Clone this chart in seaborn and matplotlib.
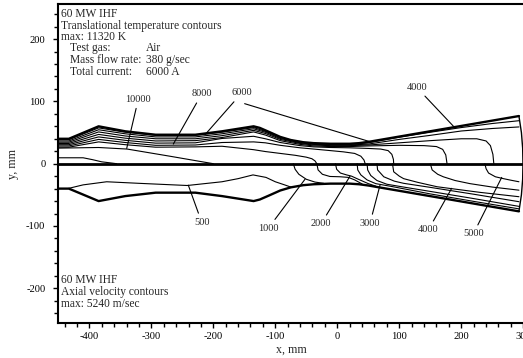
import matplotlib
matplotlib.use("Agg")
import matplotlib.pyplot as plt
import seaborn as sns
from matplotlib.ticker import MultipleLocator

# nozzle wall, upper contour (the lower wall is its mirror image)
wall_x = [-450, -433, -385, -342, -293, -229, -186, -135, -125, -110, -92, -75, -55, -38, -11, 20, 35, 50, 293]
wall_y = [40, 40, 60, 52, 46.5, 46.5, 52, 60, 57.5, 51, 43, 38, 34.5, 33, 32, 32, 33, 35, 76.5]

# exit plane
exit_x = [293, 297, 299, 299.5, 299, 297, 293]
exit_y = [76.5, 50, 25, 0, -25, -50, -76.5]

# translational temperature contours (upper half)
st_x = [-450, -433, -385, -342, -293, -229, -186, -135, -116, -92, -60, -38, -11, 20]
t_a_x = st_x + [50, 100, 150, 200, 250, 293]
t_a_y = [38.5, 38.5, 57.5, 50.5, 45.5, 45.5, 50.5, 58, 52, 42, 34.5, 32, 31, 31,
         33.5, 42.5, 50.5, 58, 64.5, 69]
t_b_x = st_x + [50, 100, 150, 200, 250, 293]
t_b_y = [36.5, 36.5, 54.5, 48, 43, 43, 48, 56, 50.5, 40.5, 33.5, 31, 30, 30,
         31.5, 39, 45.5, 52.5, 56.5, 59]
t_c_x = st_x + [50, 100, 150, 200, 225, 240, 247, 251, 252.5]
t_c_y = [34.5, 34.5, 51, 44.5, 40, 40, 45, 53.5, 48.5, 39, 32.5, 30, 29, 29,
         30, 33.5, 37, 40, 40, 36.5, 29, 15, 0]
t_d_x = st_x + [50, 100, 140, 160, 170, 175, 177]
t_d_y = [32.5, 32.5, 47, 41, 36.5, 37, 42, 51, 46, 37, 31, 28.5, 27.5, 27.5,
         28.5, 29.5, 29, 27.5, 23, 14, 0]
t_e_x = st_x + [50, 70, 82, 88, 90.5, 91]
t_e_y = [30.5, 30.5, 43, 37.5, 33, 33.5, 40.5, 44, 40, 34, 29, 27, 26, 25.5,
         24.5, 23.5, 21, 15, 7, 0]
t_f_x = st_x[:-1] + [10, 28, 38, 43, 45]
t_f_y = [28.5, 28.5, 39, 34, 29.5, 30, 34, 35, 33.5, 29.5, 25.5, 23.5, 21,
         19, 16.5, 12, 6, 0]
t_g_x = st_x[:-4] + [-68, -50, -41, -36, -33]
t_g_y = [26.5, 26.5, 35, 30.5, 26.5, 27, 28, 22.5, 19.5, 16.5,
         13.5, 10.5, 8, 4.5, 0]
t_h_x = [-450, -385, -339, -270, -200]
t_h_y = [25, 26, 23.5, 12, 0]
t_i_x = [-450, -410, -395, -380, -362, -356]
t_i_y = [9.5, 9.5, 6.5, 3, 0.8, 0]

# axial velocity contours (lower half)
v_1_x = [-433, -410, -372, -320, -242, -186, -160, -136, -115, -100, -85, -75]
v_1_y = [-39.5, -34, -29, -31.5, -35, -29, -24, -18, -22, -29, -34, -37.5]
v_2_x = [-71, -68, -62, -50, -36, -22]
v_2_y = [0, -9, -17, -25, -29.5, -31.5]
v_3_x = [-33, -31, -24, -12, 5, 18, 28, 40]
v_3_y = [0, -10, -17, -20.5, -21, -22, -26, -32.5]
v_4_x = [-3, -1, 5, 15, 23, 34, 50, 62]
v_4_y = [0, -9, -15, -18, -20, -25, -32, -36]
v_5_x = [32, 33, 38, 48, 62, 90, 150, 220, 293]
v_5_y = [0, -10, -18, -26, -32, -37, -48.5, -60.5, -72.5]
v_6_x = [48, 49, 54, 64, 80, 110, 150, 220, 293]
v_6_y = [0, -10, -19, -27, -33, -38, -44.5, -56, -68.5]
v_7_x = [64, 65, 75, 92, 107, 150, 220, 293]
v_7_y = [0, -10, -21, -28, -31.5, -38, -49, -61]
v_8_x = [89, 91, 100, 107, 130, 161, 230, 293]
v_8_y = [0, -13, -20, -24, -30, -37, -46, -53]
v_9_x = [150, 153, 162, 171, 190, 214, 250, 293]
v_9_y = [0, -10, -17, -21, -27, -32, -37.5, -42.5]
v_10_x = [238, 240, 244, 255, 268, 280, 293]
v_10_y = [0, -8, -15, -21, -24, -26.5, -29]

temp_lines = [(t_a_x, t_a_y), (t_b_x, t_b_y), (t_c_x, t_c_y), (t_d_x, t_d_y),
              (t_e_x, t_e_y), (t_f_x, t_f_y), (t_g_x, t_g_y), (t_h_x, t_h_y),
              (t_i_x, t_i_y)]
vel_lines = [(v_1_x, v_1_y), (v_2_x, v_2_y), (v_3_x, v_3_y), (v_4_x, v_4_y),
             (v_5_x, v_5_y), (v_6_x, v_6_y), (v_7_x, v_7_y), (v_8_x, v_8_y),
             (v_9_x, v_9_y), (v_10_x, v_10_y)]

sns.set_theme(style="ticks")
plt.rcParams["font.family"] = ["Liberation Serif", "DejaVu Serif"]
plt.rcParams["axes.unicode_minus"] = False

fig = plt.figure(figsize=(5.23, 3.58), dpi=100)
ax = fig.add_axes([0.1115, 0.0964, 0.8914, 0.8927])


def draw(x, y, lw):
    sns.lineplot(x=x, y=y, sort=False, estimator=None, color="black",
                 linewidth=lw, ax=ax, legend=False)


for x, y in temp_lines + vel_lines:
    draw(x, y, 0.8)

draw(wall_x, wall_y, 1.7)
draw(wall_x, [-v for v in wall_y], 1.7)
draw(exit_x, exit_y, 1.0)
ax.axhline(0, color="black", lw=2)

# contour labels with leader lines
lead = dict(arrowstyle="-", color="black", lw=0.8, shrinkA=1, shrinkB=0)
fs = 7.5
for txt, xy, xyt in [("10000", (-339.7, 24.5), (-321, 103.4)),
                     ("8000", (-264.5, 31.5), (-218.7, 111.9)),
                     ("6000", (-213.4, 46.5), (-154.2, 113.5)),
                     ("4000", (189.8, 57.5), (128, 122.6)),
                     ("500", (-240.3, -34.5), (-218.7, -94)),
                     ("1000", (-52.1, -25), (-111.3, -103.7)),
                     ("2000", (20.5, -20), (-26.3, -96.8)),
                     ("3000", (68.9, -34.5), (52.7, -95.7)),
                     ("4000", (184.5, -39.5), (146.8, -106.4)),
                     ("5000", (265.2, -22), (219.4, -112.8))]:
    ax.annotate(txt, xy=xy, xytext=xyt, ha="center", va="center",
                fontsize=fs, arrowprops=lead)
ax.annotate("", xy=(52.7, 35.3), xytext=(-151.6, 97), arrowprops=lead)

# header blocks
tf = 8.3
ax.text(-445.6, 240.3, "60 MW IHF", fontsize=tf, va="center")
ax.text(-445.6, 221.5, "Translational temperature contours", fontsize=tf, va="center")
ax.text(-445.6, 203.9, "max: 11320 K", fontsize=tf, va="center")
for yy, k, v in [(185.2, "Test gas:", "Air"),
                 (166.4, "Mass flow rate:", "380 g/sec"),
                 (147.7, "Total current:", "6000 A")]:
    ax.text(-431, yy, k, fontsize=tf, va="center")
    ax.text(-309, yy, v, fontsize=tf, va="center")
ax.text(-446, -186.7, "60 MW IHF", fontsize=tf, va="center")
ax.text(-446, -206.4, "Axial velocity contours", fontsize=tf, va="center")
ax.text(-446, -225.2, "max: 5240 m/sec", fontsize=tf, va="center")

ax.set_xlim(-450, 302)
ax.set_ylim(-256.5, 256.5)
ax.xaxis.set_major_locator(MultipleLocator(100))
ax.xaxis.set_minor_locator(MultipleLocator(20))
ax.yaxis.set_major_locator(MultipleLocator(100))
ax.yaxis.set_minor_locator(MultipleLocator(20))
ax.tick_params(which="both", direction="out", top=False, right=False,
               width=1, colors="black", labelsize=7.6)
ax.tick_params(which="major", length=3.8)
ax.tick_params(which="minor", length=2.8)
ax.tick_params(axis="x", pad=2.5)
ax.tick_params(axis="y", pad=5.5)
for s in ax.spines.values():
    s.set_linewidth(1.5)
    s.set_color("black")
ax.set_xlabel("x, mm", fontsize=8.6, labelpad=2)
ax.set_ylabel("y, mm", fontsize=8.6, labelpad=5)

fig.savefig("out.png", dpi=100)
